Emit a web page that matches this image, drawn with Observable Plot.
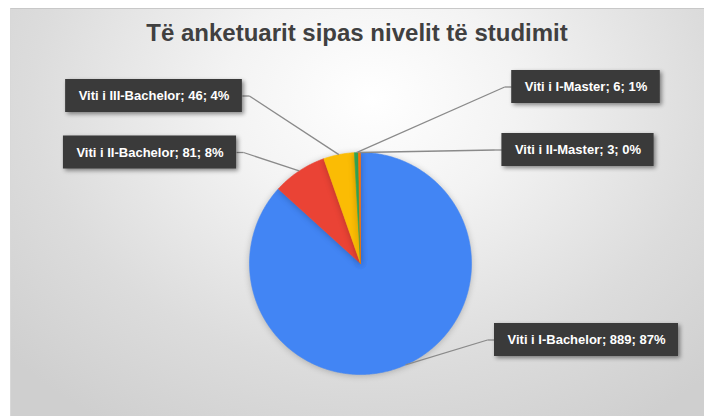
<!DOCTYPE html>
<html>
<head>
<meta charset="utf-8">
<script src="https://cdn.jsdelivr.net/npm/d3@7"></script>
<script src="https://cdn.jsdelivr.net/npm/@observablehq/plot@0.6"></script>
<style>
html, body { margin: 0; padding: 0; background: #ffffff; }
#wrap { position: relative; width: 704px; height: 416px; overflow: hidden; }
#bg { position: absolute; left: 10px; top: 8px; right: 0; bottom: 0;
  background: radial-gradient(ellipse 70% 95% at 52% 22%, #ffffff 0%, #f3f3f3 30%, #dcdcdc 70%, #cfcfcf 100%);
  border-top: 1px solid #c8c8c8; border-left: 1px solid #d8d8d8; }
#title { position: absolute; left: 10px; right: 0; top: 19px; text-align: center;
  font: bold 24px "Liberation Sans", Arial, sans-serif; line-height: 28px; color: #404040; }
#chart { position: absolute; left: 0; top: 0; }
#chart g[aria-label="line"] { filter: drop-shadow(0px 1px 3px rgba(0,0,0,0.22)); }
#chart g[aria-label="rect"] { filter: drop-shadow(2px 2px 2px rgba(0,0,0,0.45)); }
</style>
</head>
<body>
<div id="wrap">
  <div id="bg"></div>
  <div id="title">Të anketuarit sipas nivelit të studimit</div>
  <div id="chart"></div>
</div>
<script>
// ---- data ----
const categories = ["Viti i I-Bachelor", "Viti i II-Bachelor", "Viti i III-Bachelor", "Viti i I-Master", "Viti i II-Master"];
const values = [889, 81, 46, 6, 3];
const colors = ["#4285F4", "#EA4335", "#FBBC04", "#34A853", "#FF6D01"];

// ---- layout (pixels) ----
const W = 704, H = 416;
const CX = 360, CY = 263, R = 111;
const labelLayout = [
  { cx: 586,   cy: 339.5, side: "right" },
  { cx: 149.5, cy: 152,   side: "left" },
  { cx: 153.5, cy: 95.5,  side: "left" },
  { cx: 585.5, cy: 86.5,  side: "right" },
  { cx: 577.5, cy: 149.5, side: "right" }
];
const FONT = "bold 13px 'Liberation Sans', Arial, sans-serif";
const PAD = 26, BOX_H = 33, ELBOW = 7;

// pixel -> unit coords (pie units)
const ux = px => (px - CX) / R;
const uy = py => (CY - py) / R;

const total = d3.sum(values);
const arcs = d3.pie().sort(null).value(d => d)(values);

// slice polygons in unit coords
const slices = arcs.map((a, i) => {
  const n = Math.max(2, Math.ceil((a.endAngle - a.startAngle) / (Math.PI / 360)));
  const pts = [{ x: 0, y: 0 }];
  for (let k = 0; k <= n; k++) {
    const t = a.startAngle + (a.endAngle - a.startAngle) * k / n;
    pts.push({ x: Math.sin(t), y: Math.cos(t) });
  }
  pts.push({ x: 0, y: 0 });
  return pts;
});

// label texts
const labels = categories.map((c, i) => `${c}; ${values[i]}; ${Math.round(values[i] / total * 100)}%`);

// measure text widths
const ctx = document.createElement("canvas").getContext("2d");
ctx.font = FONT;

const boxes = labels.map((t, i) => {
  const L = labelLayout[i];
  const w = ctx.measureText(t).width + PAD;
  return { text: t, x1: ux(L.cx - w / 2), x2: ux(L.cx + w / 2), y1: uy(L.cy - BOX_H / 2), y2: uy(L.cy + BOX_H / 2),
           tx: ux(L.cx), ty: uy(L.cy), edge: L.side === "left" ? L.cx + w / 2 : L.cx - w / 2, side: L.side, py: L.cy };
});

// leader segments
const leaders = [];
arcs.forEach((a, i) => {
  const m = (a.startAngle + a.endAngle) / 2;
  const b = boxes[i];
  const elbowX = b.side === "left" ? b.edge + ELBOW : b.edge - ELBOW;
  leaders.push({ x1: Math.sin(m), y1: Math.cos(m), x2: ux(elbowX), y2: uy(b.py) });
  leaders.push({ x1: ux(elbowX), y1: uy(b.py), x2: ux(b.edge), y2: uy(b.py) });
});

const marks = [
  ...slices.map((pts, i) => Plot.line(pts, { x: "x", y: "y", fill: colors[i], stroke: colors[i], strokeWidth: 0.6, curve: "linear" })),
  Plot.link(leaders, { x1: "x1", y1: "y1", x2: "x2", y2: "y2", stroke: "#8a8a8a", strokeWidth: 1.3 }),
  Plot.rect(boxes, { x1: "x1", x2: "x2", y1: "y1", y2: "y2", fill: "#3a3a3a" }),
  Plot.text(boxes, { x: "tx", y: "ty", text: "text", fill: "#ffffff", fontSize: 13, fontWeight: "bold",
                     fontFamily: "'Liberation Sans', Arial, sans-serif", textAnchor: "middle" })
];

const chart = Plot.plot({
  width: W, height: H,
  margin: 0,
  x: { domain: [-1, 1], range: [CX - R, CX + R], axis: null },
  y: { domain: [-1, 1], range: [CY + R, CY - R], axis: null },
  style: { background: "transparent", overflow: "visible" },
  marks
});
document.getElementById("chart").appendChild(chart);
</script>
</body>
</html>
